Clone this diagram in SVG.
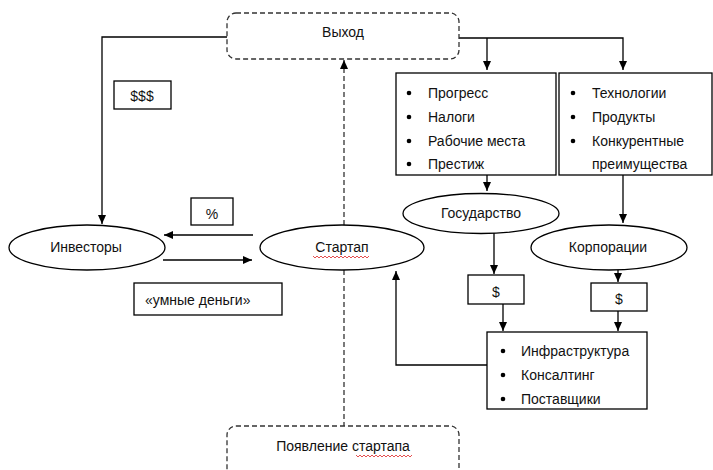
<svg xmlns="http://www.w3.org/2000/svg" width="713" height="470" viewBox="0 0 713 470">
<defs>
<marker id="ah" markerWidth="10" markerHeight="10" refX="9" refY="5" orient="auto" markerUnits="userSpaceOnUse">
<path d="M0,1 L9,5 L0,9 Z" fill="#000"/>
</marker>
<style>
text{font-family:"Liberation Sans",Arial,sans-serif;font-size:14px;fill:#111;dominant-baseline:central}
.c{text-anchor:middle}
.box{fill:#fff;stroke:#000;stroke-width:1.3}
.dbox{fill:#fff;stroke:#333;stroke-width:1.3;stroke-dasharray:5,3}
.ln{fill:none;stroke:#000;stroke-width:1.3}
.dl{fill:none;stroke:#333;stroke-width:1.3;stroke-dasharray:5,3}
.sq{fill:none;stroke:#d22;stroke-width:0.8}
</style>
</defs>
<rect width="713" height="470" fill="#fff"/>
<g id="connectors">
<path class="ln" d="M227,37 H102 V224" marker-end="url(#ah)"/>
<path class="ln" d="M459,38 H623 V70" marker-end="url(#ah)"/>
<path class="ln" d="M487,38 V70" marker-end="url(#ah)"/>
<path class="ln" d="M487,175 V191" marker-end="url(#ah)"/>
<path class="ln" d="M623,175 V223" marker-end="url(#ah)"/>
<path class="ln" d="M494,233 V274" marker-end="url(#ah)"/>
<path class="ln" d="M618,270 V282" marker-end="url(#ah)"/>
<path class="ln" d="M503,304 V331" marker-end="url(#ah)"/>
<path class="ln" d="M618,311 V331" marker-end="url(#ah)"/>
<path class="ln" d="M487,365 H396 V271" marker-end="url(#ah)"/>
<path class="ln" d="M253,235 H164" marker-end="url(#ah)"/>
<path class="ln" d="M163,260 H252" marker-end="url(#ah)"/>
<path class="dl" d="M344,225 V60" marker-end="url(#ah)"/>
<path class="dl" d="M344,270 V426"/>
</g>
<g id="exit">
<rect class="dbox" x="227" y="13" width="232" height="46" rx="9"/>
<text class="c" x="343" y="32">Выход</text>
</g>
<g id="sss">
<rect class="box" x="114" y="81" width="57" height="28"/>
<text class="c" x="142" y="96">$$$</text>
</g>
<g id="percent">
<rect class="box" x="191" y="198" width="42" height="27"/>
<text class="c" x="212" y="214">%</text>
</g>
<g id="investors">
<ellipse class="box" cx="87" cy="247.5" rx="78" ry="22.5"/>
<text class="c" x="86" y="247">Инвесторы</text>
</g>
<g id="startup">
<ellipse class="box" cx="342" cy="247.5" rx="82" ry="22.5"/>
<text class="c" x="342" y="247">Стартап</text>
<path class="sq" d="M313,256 l2,2 l2,-2 l2,2 l2,-2 l2,2 l2,-2 l2,2 l2,-2 l2,2 l2,-2 l2,2 l2,-2 l2,2 l2,-2 l2,2 l2,-2 l2,2 l2,-2 l2,2 l2,-2 l2,2 l2,-2 l2,2 l2,-2 l2,2 l2,-2 l2,2 l2,-2"/>
</g>
<g id="smart-money">
<rect class="box" x="134" y="283" width="148" height="32"/>
<text x="145" y="300">«умные деньги»</text>
</g>
<g id="appearance">
<rect class="dbox" x="227" y="426" width="232" height="56" rx="9"/>
<text class="c" x="343" y="446">Появление стартапа</text>
<path class="sq" d="M356,455 l2,2 l2,-2 l2,2 l2,-2 l2,2 l2,-2 l2,2 l2,-2 l2,2 l2,-2 l2,2 l2,-2 l2,2 l2,-2 l2,2 l2,-2 l2,2 l2,-2 l2,2 l2,-2 l2,2 l2,-2 l2,2 l2,-2 l2,2 l2,-2 l2,2 l2,-2"/>
</g>
<g id="state-benefits">
<rect class="box" x="396" y="73" width="160" height="102"/>
<circle cx="409" cy="93" r="2.3"/><text x="428" y="93">Прогресс</text>
<circle cx="409" cy="117" r="2.3"/><text x="428" y="117">Налоги</text>
<circle cx="409" cy="141" r="2.3"/><text x="428" y="141">Рабочие места</text>
<circle cx="409" cy="164" r="2.3"/><text x="428" y="164">Престиж</text>
</g>
<g id="corp-benefits">
<rect class="box" x="559" y="73" width="153" height="102"/>
<circle cx="573" cy="93" r="2.3"/><text x="592" y="93">Технологии</text>
<circle cx="573" cy="117" r="2.3"/><text x="592" y="117">Продукты</text>
<circle cx="573" cy="141" r="2.3"/><text x="592" y="141">Конкурентные</text>
<text x="592" y="164">преимущества</text>
</g>
<g id="state">
<ellipse class="box" cx="481" cy="213.5" rx="78" ry="20"/>
<text class="c" x="481" y="213">Государство</text>
</g>
<g id="corporations">
<ellipse class="box" cx="609" cy="247.5" rx="78" ry="22.5"/>
<text class="c" x="608" y="247">Корпорации</text>
</g>
<g id="state-money">
<rect class="box" x="468" y="275" width="56" height="29"/>
<text class="c" x="496" y="292">$</text>
</g>
<g id="corp-money">
<rect class="box" x="591" y="283" width="56" height="28"/>
<text class="c" x="619" y="299">$</text>
</g>
<g id="support">
<rect class="box" x="487" y="332" width="160" height="77"/>
<circle cx="503" cy="351" r="2.3"/><text x="521" y="351">Инфраструктура</text>
<circle cx="503" cy="375" r="2.3"/><text x="521" y="375">Консалтинг</text>
<circle cx="503" cy="399" r="2.3"/><text x="521" y="399">Поставщики</text>
</g>
</svg>
